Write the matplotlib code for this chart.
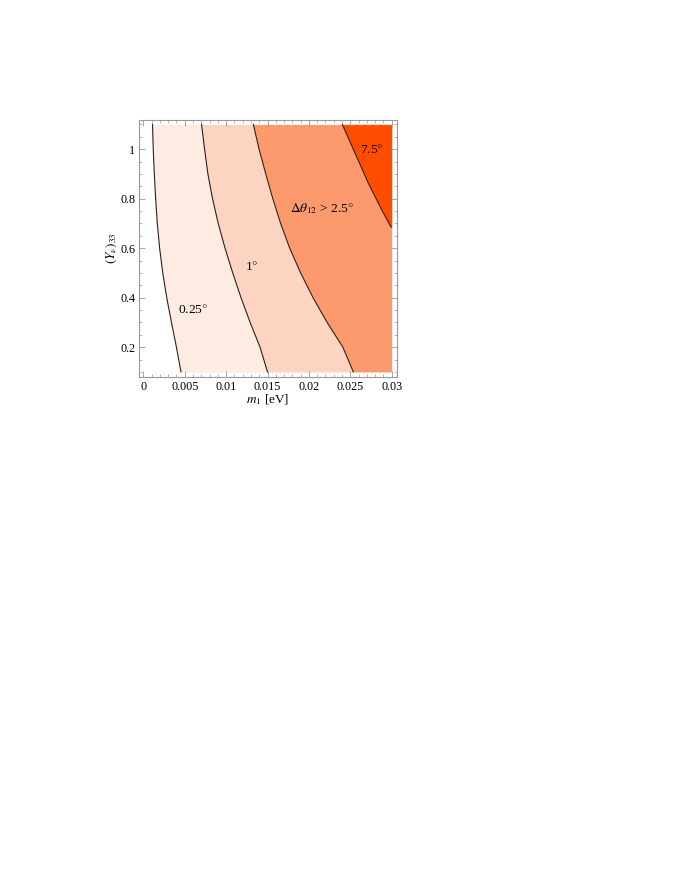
import matplotlib
matplotlib.use('Agg')
import matplotlib.pyplot as plt
from matplotlib.ticker import MultipleLocator, FixedLocator

plt.rcParams['font.family'] = ['Liberation Serif', 'DejaVu Serif']
plt.rcParams['mathtext.fontset'] = 'stix'

y_levels = [0.1, 0.2, 0.3, 0.4, 0.5, 0.6, 0.7, 0.8, 0.9, 1.0, 1.1]

# x position of each contour line at y_levels
x_025 = [0.00455, 0.0040, 0.0034, 0.00283, 0.00235, 0.00197, 0.00169, 0.00149, 0.00133, 0.0012, 0.00111]
x_1 = [0.0150, 0.0141, 0.0129, 0.0118, 0.0108, 0.00987, 0.00905, 0.00836, 0.0078, 0.0074, 0.00703]
x_25 = [0.02536, 0.0241, 0.0222, 0.0205, 0.0190, 0.01768, 0.01658, 0.01564, 0.01479, 0.01398, 0.01329]

# 7.5 degree line only reaches the right edge at y ~ 0.685
y_75 = [0.685, 0.755, 0.863, 0.984, 1.1]
x_75 = [0.02992, 0.02879, 0.02717, 0.02557, 0.02403]

x_min, x_max = 0.001, 0.03
y_min, y_max = 0.1, 1.1

region_colors = ['#ffffff', '#feece3', '#fdd4c2', '#fc9a6e', '#ff4e00']

x_ticks = [0, 0.005, 0.01, 0.015, 0.02, 0.025, 0.03]
x_tick_labels = ['0', '0.005', '0.01', '0.015', '0.02', '0.025', '0.03']
y_ticks = [0.2, 0.4, 0.6, 0.8, 1.0]
y_tick_labels = ['0.2', '0.4', '0.6', '0.8', '1']

fig = plt.figure(figsize=(6.8, 8.8), dpi=100)
ax = fig.add_axes([0.2049, 0.5720, 0.3785, 0.2917])

# filled regions between contour lines
ax.fill_betweenx(y_levels, x_min, x_025, color=region_colors[0], lw=0)
ax.fill_betweenx(y_levels, x_025, x_1, color=region_colors[1], lw=0)
ax.fill_betweenx(y_levels, x_1, x_25, color=region_colors[2], lw=0)
ax.fill_betweenx(y_levels, x_25, x_max, color=region_colors[3], lw=0)
ax.fill_betweenx(y_75, x_75, x_max, color=region_colors[4], lw=0)

# contour lines
for xs, ys in [(x_025, y_levels), (x_1, y_levels), (x_25, y_levels), (x_75, y_75)]:
    ax.plot(xs, ys, color='#222222', lw=0.8)

# labels inside the plot
fs = 9.7
ax.text(0.0060, 0.351, r'0.25$\degree$', fontsize=fs, ha='center', va='center')
ax.text(0.0131, 0.526, r'1$\degree$', fontsize=fs, ha='center', va='center')
ax.text(0.02155, 0.759, r'$\Delta\theta_{12}$ > 2.5$\degree$', fontsize=fs, ha='center', va='center')
ax.text(0.0276, 1.0, r'7.5$\degree$', fontsize=fs, ha='center', va='center')

ax.set_xlim(-0.00048, 0.0306)
ax.set_ylim(0.0812, 1.118)

ax.xaxis.set_major_locator(FixedLocator(x_ticks))
ax.set_xticklabels(x_tick_labels)
ax.xaxis.set_minor_locator(MultipleLocator(0.001))
ax.yaxis.set_major_locator(FixedLocator(y_ticks))
ax.set_yticklabels(y_tick_labels)
ax.yaxis.set_minor_locator(MultipleLocator(0.05))

ax.tick_params(which='both', direction='in', top=True, right=True, color='#999999',
               labelsize=8.7, pad=3)
ax.tick_params(which='major', length=4, width=0.6)
ax.tick_params(which='minor', length=2, width=0.5)
for s in ax.spines.values():
    s.set_color('#999999')
    s.set_linewidth(0.8)

ax.set_xlabel(r'$m_1$ [eV]', fontsize=9.5, labelpad=0)
ax.set_ylabel(r'$(Y_\nu)_{33}$', fontsize=9.5, labelpad=1)

plt.savefig('out.png', dpi=100)
plt.close()
